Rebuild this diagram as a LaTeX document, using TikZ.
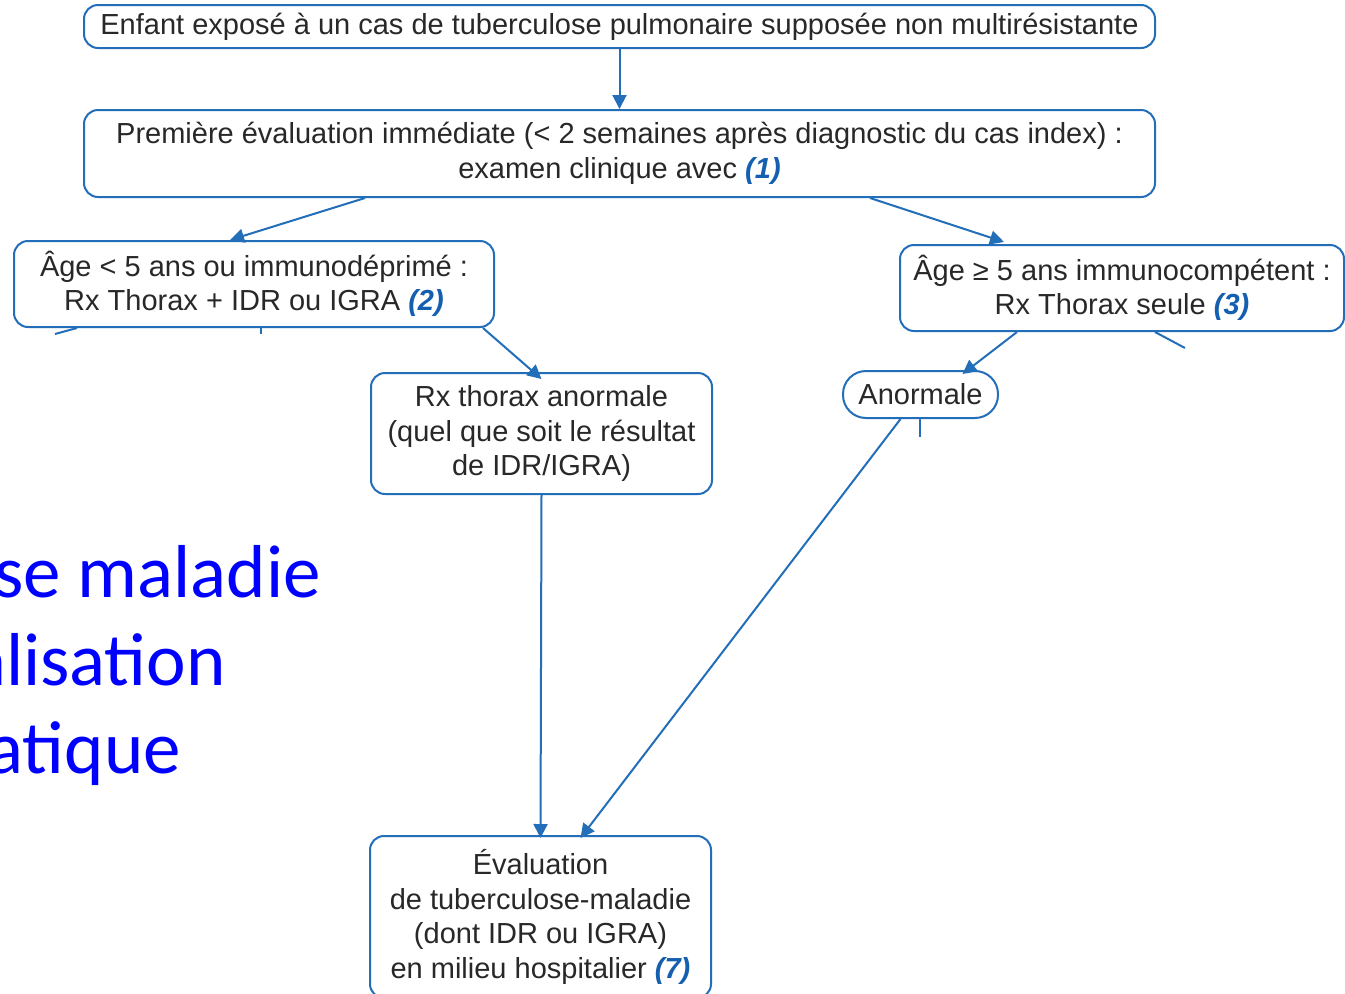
\documentclass[tikz,border=0pt]{standalone}
\usepackage{fontspec}
\setmainfont{Liberation Sans}
\newfontfamily\calib{Carlito}
\usetikzlibrary{arrows.meta,calc}
\definecolor{lblue}{RGB}{35,110,185}
\definecolor{txt}{RGB}{40,40,40}
\definecolor{numblue}{RGB}{20,95,175}
\newcommand{\refnum}[1]{{\color{numblue}\bfseries\itshape #1}}
\begin{document}
\begin{tikzpicture}[x=1pt,y=-1pt,
 box/.style={draw=lblue, line width=2pt, rounded corners=14pt, fill=white, text=txt, align=center, inner sep=0pt, font=\fontsize{29}{34.5}\selectfont},
 arr/.style={draw=lblue, line width=2pt, -{Triangle[length=14pt,width=14pt]}},
 ln/.style={draw=lblue, line width=2pt},
 big/.style={anchor=base east, inner sep=0pt, text=blue, font=\calib\fontsize{75}{75}\selectfont}]
\useasboundingbox (0,0) rectangle (1345,994);
\clip (0,0) rectangle (1345,994);
\fill[white] (0,0) rectangle (1345,994);

\node[box, minimum width=1071pt, minimum height=43pt] (top) at (619.5,26.5)
 {Enfant exposé à un cas de tuberculose pulmonaire supposée non multirésistante};
\node[box, minimum width=1071pt, minimum height=87pt] (eval) at (619.5,153.5)
 {Première évaluation immédiate (< 2 semaines après diagnostic du cas index) :\\examen clinique avec \refnum{(1)}};
\node[box, minimum width=480pt, minimum height=86pt] (left) at (254,284)
 {Âge < 5 ans ou immunodéprimé :\\Rx Thorax + IDR ou IGRA \refnum{(2)}};
\node[box, minimum width=444pt, minimum height=86pt] (right) at (1122,288)
 {Âge ≥ 5 ans immunocompétent :\\Rx Thorax seule \refnum{(3)}};
\node[box, minimum width=341pt, minimum height=121pt] (rx) at (541.5,433.5)
 {Rx thorax anormale\\(quel que soit le résultat\\de IDR/IGRA)};
\node[box, rounded corners=23pt, minimum width=155pt, minimum height=47pt] (anor) at (920.5,394.5)
 {Anormale};
\node[box, minimum width=341pt, minimum height=162pt] (hosp) at (540.5,917)
 {Évaluation\\de tuberculose-maladie\\(dont IDR ou IGRA)\\en milieu hospitalier \refnum{(7)}};

% connectors
\draw[arr] (top.south) -- (eval.north);
\draw[arr] ([xshift=-254.5pt]eval.south) -- ([xshift=-24pt]left.north);
\draw[arr] ([xshift=250.5pt]eval.south) -- ([xshift=-118pt,yshift=2pt]right.north);
\draw[arr] ([xshift=229pt]left.south) -- ([yshift=-7pt]rx.north);
\draw[arr] ([xshift=-105pt]right.south) -- ([xshift=42pt,yshift=-4pt]anor.north);
\draw[arr] (rx.south) -- ([yshift=-3pt]hosp.north);
\draw[arr] ([xshift=-20pt]anor.south) -- ([xshift=40pt,yshift=-3pt]hosp.north);

% cut-off fragments
\coordinate (f1) at (55,334);
\coordinate (f2) at (261,334);
\coordinate (f3) at (1185,348);
\coordinate (f4) at (920,437);
\draw[ln] ([xshift=-177pt]left.south) -- (f1);
\draw[ln] ([xshift=7pt]left.south) -- (f2);
\draw[ln] ([xshift=33pt]right.south) -- (f3);
\draw[ln] ([xshift=-0.5pt]anor.south) -- (f4);

% large blue text
\node[big] (b1) at (321,597) {se maladie};
\node[big] (b2) at (226,685) {alisation};
\node[big] (b3) at (181,773) {atique};
\end{tikzpicture}
\end{document}
